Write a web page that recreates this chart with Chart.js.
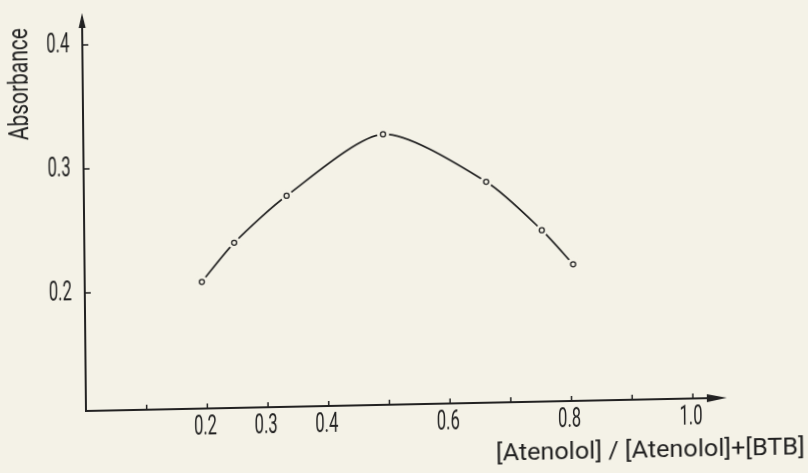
<!DOCTYPE html>
<html>
<head>
<meta charset="utf-8">
<script src="https://cdn.jsdelivr.net/npm/chart.js@4.4.0/dist/chart.umd.min.js"></script>
<style>
  html, body { margin: 0; padding: 0; background: #f4f2e7; overflow: hidden; }
  /* the scanned figure is slightly skewed, so the whole canvas is too */
  #plot { display: block; transform: matrix(1, -0.0206, 0.01, 1, 0, 0); transform-origin: 86px 411px; }
</style>
</head>
<body>
<canvas id="plot" width="808" height="473"></canvas>
<script>
// values
const moleFraction = [0.193, 0.247, 0.334, 0.494, 0.663, 0.754, 0.805];
const absorbance = [0.207, 0.238, 0.275, 0.323, 0.283, 0.243, 0.215];

const xTicks = [0.1, 0.2, 0.3, 0.4, 0.5, 0.6, 0.7, 0.8, 0.9, 1.0];
const xTickLabels = ['', '0.2', '0.3', '0.4', '', '0.6', '', '0.8', '', '1.0'];
const yTicks = [0.2, 0.3, 0.4];
const yTickLabels = ['0.2', '0.3', '0.4'];
const xTitle = '[Atenolol] / [Atenolol]+[BTB]';
const yTitle = 'Absorbance';

const ink = '#222222';
const paper = '#f4f2e7';
const fontFamily = 'Roboto, "DejaVu Sans", sans-serif';

const points = moleFraction.map((x, i) => ({ x: x, y: absorbance[i] }));

// squeeze text horizontally so it looks like the narrow lettering of the scan
function narrowText(ctx, str, x, y, sx, align) {
    ctx.save();
    ctx.translate(x, y);
    ctx.scale(sx, 1);
    ctx.textAlign = align;
    ctx.textBaseline = 'middle';
    ctx.fillText(str, 0, 0);
    ctx.restore();
}

const axesPlugin = {
    id: 'handAxes',
    afterDatasetsDraw(chart) {
        const ctx = chart.ctx;
        const area = chart.chartArea;
        const xs = chart.scales.x, ys = chart.scales.y;
        const left = area.left, bottom = area.bottom;

        ctx.save();
        ctx.strokeStyle = ink;
        ctx.fillStyle = ink;
        ctx.lineWidth = 2;

        // axis lines
        ctx.beginPath();
        ctx.moveTo(left, area.top + 8);
        ctx.lineTo(left, bottom);
        ctx.lineTo(area.right - 12, bottom);
        ctx.stroke();

        // arrow heads
        ctx.beginPath();
        ctx.moveTo(left, area.top);
        ctx.lineTo(left - 3.5, area.top + 15);
        ctx.lineTo(left + 3.5, area.top + 15);
        ctx.closePath();
        ctx.fill();
        ctx.beginPath();
        ctx.moveTo(area.right, bottom);
        ctx.lineTo(area.right - 20, bottom - 4);
        ctx.lineTo(area.right - 20, bottom + 4);
        ctx.closePath();
        ctx.fill();

        // inward tick marks
        ctx.lineWidth = 1.5;
        xTicks.forEach(v => {
            const px = xs.getPixelForValue(v);
            ctx.beginPath();
            ctx.moveTo(px, bottom);
            ctx.lineTo(px, bottom - 5);
            ctx.stroke();
        });
        yTicks.forEach(v => {
            const py = ys.getPixelForValue(v);
            ctx.beginPath();
            ctx.moveTo(left, py);
            ctx.lineTo(left + 6, py);
            ctx.stroke();
        });

        // tick labels
        ctx.font = '27px ' + fontFamily;
        const sx = 23 / ctx.measureText('0.0').width;
        xTicks.forEach((v, i) => {
            if (!xTickLabels[i]) return;
            narrowText(ctx, xTickLabels[i], xs.getPixelForValue(v) - 2, bottom + 19, sx, 'center');
        });
        yTicks.forEach((v, i) => {
            narrowText(ctx, yTickLabels[i], left - 13, ys.getPixelForValue(v), sx, 'right');
        });

        // axis titles
        ctx.font = '27px ' + fontFamily;
        const sy = 112 / ctx.measureText(yTitle).width;
        ctx.save();
        ctx.translate(24, 83);
        ctx.rotate(-Math.PI / 2);
        narrowText(ctx, yTitle, 0, 0, sy, 'center');
        ctx.restore();

        ctx.font = '24px ' + fontFamily;
        const st = 309 / ctx.measureText(xTitle).width;
        narrowText(ctx, xTitle, 650, 463, st, 'center');

        ctx.restore();
    }
};

new Chart(document.getElementById('plot'), {
    type: 'scatter',
    data: {
        datasets: [
            {
                // open circle markers
                data: points,
                showLine: false,
                pointRadius: 2.5,
                pointBorderWidth: 1.3,
                pointBorderColor: ink,
                pointBackgroundColor: 'rgba(0,0,0,0)'
            },
            {
                // smooth curve, broken around each marker
                data: points,
                showLine: true,
                borderColor: ink,
                borderWidth: 1.7,
                tension: 0.25,
                pointRadius: 6,
                pointBorderWidth: 0,
                pointBackgroundColor: paper
            }
        ]
    },
    options: {
        responsive: false,
        animation: false,
        events: [],
        layout: { padding: { left: 86, top: 13, right: 81, bottom: 62 } },
        plugins: { legend: { display: false }, tooltip: { enabled: false } },
        scales: {
            x: { display: false, min: 0, max: 1.056 },
            y: { display: false, min: 0.1048, max: 0.4258 }
        }
    },
    plugins: [axesPlugin]
});
</script>
</body>
</html>
